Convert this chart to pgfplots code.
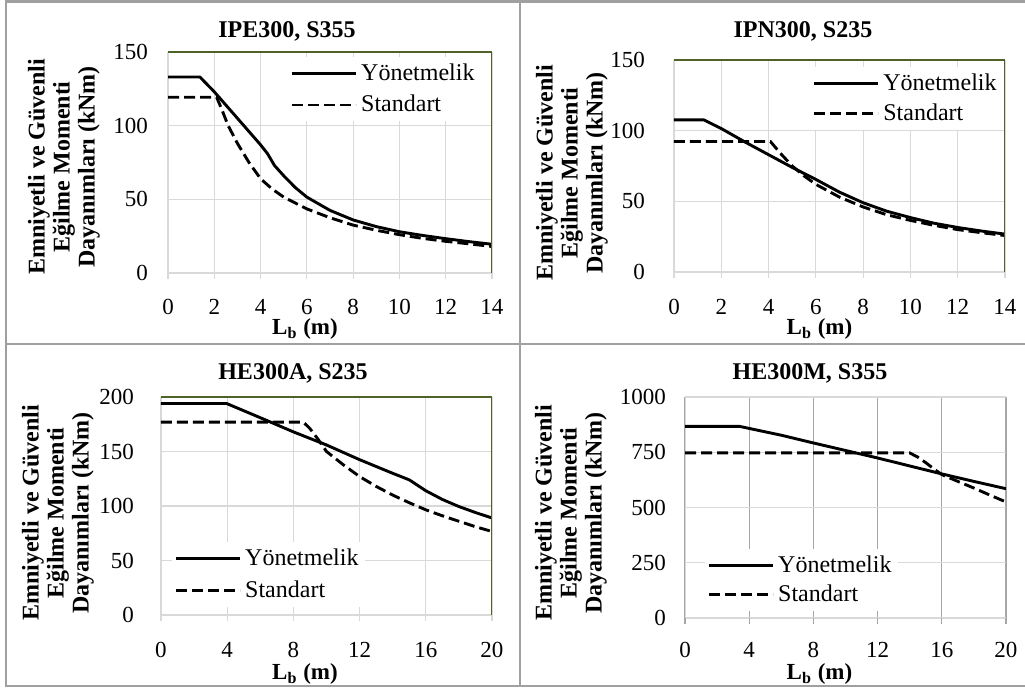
\documentclass[border=0pt]{standalone}
\usepackage{fontspec}
\setmainfont{Liberation Serif}
\usepackage{pgfplots}
\pgfplotsset{compat=1.18}
\definecolor{gridc}{HTML}{D9D9D9}
\definecolor{darkgrid}{HTML}{A6A6A6}
\definecolor{greenc}{HTML}{4F6228}
\definecolor{framec}{HTML}{A0A0A0}
\pgfplotsset{
  panel/.style={
    scale only axis,
    axis line style={draw=none},
    grid=major,
    grid style={color=gridc, line width=0.6pt},
    tick align=outside,
    xtick pos=left, ytick pos=left,
    major tick length=3pt,
    xtick style={color=gridc, line width=0.6pt},
    ytick style={draw=none},
    tick label style={font=\fontsize{11.5}{13}\selectfont},
    /pgf/number format/assume math mode=true,
    /pgf/number format/1000 sep={},
    legend style={draw=none, fill=white, inner sep=1pt,
      font=\fontsize{12}{14}\selectfont, anchor=north west},
    legend cell align=left,
    legend image code/.code={\draw[##1] (0pt,0pt) -- (32pt,0pt);},
  },
  yon/.style={black, line width=1.45pt, line join=round},
  std/.style={black, line width=1.45pt, dash pattern=on 5.5pt off 2.5pt},
}
\begin{document}
\begin{tikzpicture}
\useasboundingbox (0,0) rectangle (512.5pt,345.5pt);
% panel frames
\draw[framec, line width=1.1pt] (512.5pt,344.75pt) -- (3pt,344.75pt) -- (3pt,2.5pt) -- (512.5pt,2.5pt);
\draw[framec, line width=1.1pt] (260pt,344.75pt) -- (260pt,2.5pt);
\draw[framec, line width=1.1pt] (3pt,173.5pt) -- (512.5pt,173.5pt);

% ---------- Panel 1 ----------
\begin{axis}[panel, at={(84pt,209pt)}, anchor=south west, width=162pt, height=110.5pt,
  xmin=0, xmax=14, ymin=0, ymax=150, xtick={0,2,...,14}, ytick={0,50,100,150},
  xticklabel style={inner sep=1pt, yshift=-9pt}, yticklabel style={xshift=-3.5pt},
  legend style={at={(rel axis cs:0.370,0.977)}, row sep=2pt}]
\addplot[yon] coordinates {(0,133) (1.38,133) (2,123) (3,105) (4,87) (4.3,81) (4.6,73) (5,66) (5.5,58) (6,51.5) (7,42.5) (8,36) (9,31.5) (10,28) (11,25.5) (12,23.3) (13,21.3) (14,19.5)};
\addlegendentry{Yönetmelik}
\addplot[std] coordinates {(0,119.3) (2.1,119.3) (2.3,112) (2.6,100) (3,88) (3.5,75) (4,64) (4.5,57) (5,51.5) (6,43.5) (7,37.5) (8,32.5) (9,29) (10,26) (11,23.5) (12,21.5) (13,19.8) (14,18)};
\addlegendentry{Standart}
\draw[greenc, line width=0.8pt] (rel axis cs:0,1) -- (rel axis cs:1,1) -- (rel axis cs:1,0);
\end{axis}

% ---------- Panel 2 ----------
\begin{axis}[panel, at={(337pt,209.5pt)}, anchor=south west, width=165.5pt, height=106pt,
  xmin=0, xmax=14, ymin=0, ymax=150, xtick={0,2,...,14}, ytick={0,50,100,150},
  xticklabel style={inner sep=1pt, yshift=-9.5pt}, yticklabel style={xshift=-8pt},
  legend style={at={(rel axis cs:0.411,0.967)}, row sep=1.5pt}]
\addplot[yon] coordinates {(0,107.6) (1.27,107.6) (2,101.5) (3,92) (4,83) (5,74) (6,65.5) (7,56.5) (8,49) (9,43) (10,38.5) (11,34.5) (12,31.5) (13,29) (14,26.8)};
\addlegendentry{Yönetmelik}
\addplot[std] coordinates {(0,92.3) (4.08,92.3) (4.5,84) (5,75) (5.5,68) (6,62) (7,53) (8,46) (9,40.5) (10,36.5) (11,33) (12,30) (13,27.8) (14,25.8)};
\addlegendentry{Standart}
\draw[greenc, line width=0.8pt] (rel axis cs:0,1) -- (rel axis cs:1,1) -- (rel axis cs:1,0);
\end{axis}

% ---------- Panel 3 ----------
\begin{axis}[panel, at={(80.5pt,38pt)}, anchor=south west, width=165.5pt, height=109pt,
  xmin=0, xmax=20, ymin=0, ymax=200, xtick={0,4,...,20}, ytick={0,50,...,200},
  xticklabel style={inner sep=1pt, yshift=-9.5pt}, yticklabel style={xshift=-7pt},
  legend style={at={(rel axis cs:0.033,0.335)}, row sep=2.5pt}]
\addplot[yon] coordinates {(0,194) (3.97,194) (6,181) (8,168) (10,156) (12,142.5) (14,130) (15,124) (16,114) (17,106) (18,99.5) (19,94) (20,89)};
\addlegendentry{Yönetmelik}
\addplot[std] coordinates {(0,177) (8.6,177) (9,171) (9.5,161) (10,150) (11,138) (12,127) (13,118) (14,110) (15,103) (16,96.5) (17,91) (18,86) (19,81) (20,76.6)};
\addlegendentry{Standart}
\draw[greenc, line width=0.8pt] (rel axis cs:0,1) -- (rel axis cs:1,1) -- (rel axis cs:1,0);
\end{axis}

% ---------- Panel 4 ----------
\begin{axis}[panel, at={(342.5pt,36.5pt)}, anchor=south west, width=160.5pt, height=110.5pt,
  xmin=0, xmax=20, ymin=0, ymax=1000, xtick={0,4,...,20}, ytick={0,250,...,1000},
  x grid style={color=darkgrid, line width=0.6pt}, xtick style={color=darkgrid, line width=0.6pt},
  xticklabel style={inner sep=1pt, yshift=-8pt}, yticklabel style={xshift=-3pt},
  legend style={at={(rel axis cs:0.062,0.312)}, row sep=1pt}]
\draw[gridc, line width=0.6pt] (rel axis cs:0,0) -- (rel axis cs:0,1);
\addplot[yon] coordinates {(0,867) (3.4,867) (6,827) (8,792) (10,758) (12,724) (14,688) (16,652) (18,618) (20,585)};
\addlegendentry{Yönetmelik}
\addplot[std] coordinates {(0,747) (14.0,747) (14.5,728) (15,703) (15.5,675) (16,649) (17,618) (18,588) (19,556) (20,525)};
\addlegendentry{Standart}
\end{axis}

% ---------- titles and axis titles ----------
\tikzset{ttl/.style={font=\bfseries\fontsize{12}{14}\selectfont},
         ylab/.style={rotate=90, align=center, font=\bfseries\fontsize{12}{12.5}\selectfont},
         xlab/.style={inner sep=1pt, font=\bfseries\fontsize{11.5}{13}\selectfont}}
\node[ttl] at (143.5pt,330pt) {IPE300, S355};
\node[ttl] at (401.5pt,330pt) {IPN300, S235};
\node[ttl] at (146.5pt,159pt) {HE300A, S235};
\node[ttl] at (405pt,159pt) {HE300M, S355};
\node[ylab] at (32pt,262pt) {Emniyetli ve Güvenli\\Eğilme Momenti\\Dayanımları (kNm)};
\node[ylab] at (286pt,259pt) {Emniyetli ve Güvenli\\Eğilme Momenti\\Dayanımları (kNm)};
\node[ylab] at (29pt,89pt) {Emniyetli ve Güvenli\\Eğilme Momenti\\Dayanımları (kNm)};
\node[ylab] at (285.5pt,89pt) {Emniyetli ve Güvenli\\Eğilme Momenti\\Dayanımları (kNm)};
\node[xlab] at (152.5pt,181pt) {L\textsubscript{b} (m)};
\node[xlab] at (409.75pt,181pt) {L\textsubscript{b} (m)};
\node[xlab] at (152.5pt,8.5pt) {L\textsubscript{b} (m)};
\node[xlab] at (409.75pt,8.5pt) {L\textsubscript{b} (m)};
\end{tikzpicture}
\end{document}
